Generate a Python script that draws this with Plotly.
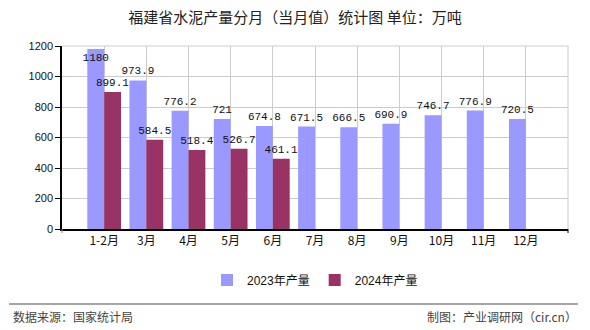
import plotly.graph_objects as go

categories = ["1-2月", "3月", "4月", "5月", "6月", "7月", "8月", "9月", "10月", "11月", "12月"]
values_2023 = [1180, 973.9, 776.2, 721, 674.8, 671.5, 666.5, 690.9, 746.7, 776.9, 720.5]
values_2024 = [899.1, 584.5, 518.4, 526.7, 461.1]
labels_2023 = ["1180", "973.9", "776.2", "721", "674.8", "671.5", "666.5", "690.9", "746.7", "776.9", "720.5"]
labels_2024 = ["899.1", "584.5", "518.4", "526.7", "461.1"]
y_ticks = [0, 200, 400, 600, 800, 1000, 1200]

W, H = 590, 330
L, R, T, B = 62, 22, 46, 101
pw, ph = W - L - R, H - T - B

def px_x(x):
    return (x - L) / pw

def px_y(y):
    return (H - B - y) / ph

num_font = dict(family="Liberation Mono, DejaVu Sans Mono, monospace", size=11, color="#111")

fig = go.Figure()
fig.add_trace(go.Bar(
    x=categories, y=values_2023, name="2023年产量",
    marker=dict(color="#9999FF", line=dict(width=0)),
    text=labels_2023,
    textposition=["inside"] + ["outside"] * (len(values_2023) - 1),
    insidetextanchor="end", textangle=0,
    textfont=num_font, insidetextfont=num_font, outsidetextfont=num_font,
    constraintext="none", cliponaxis=False,
))
fig.add_trace(go.Bar(
    x=categories[:len(values_2024)], y=values_2024, name="2024年产量",
    marker=dict(color="#993366", line=dict(width=0)),
    text=labels_2024, textposition="outside", textangle=0,
    textfont=num_font, outsidetextfont=num_font,
    constraintext="none", cliponaxis=False,
))

shapes = [
    dict(type="line", xref="paper", yref="paper", x0=0, x1=1, y0=1, y1=1, line=dict(color="#cccccc", width=1)),
    dict(type="line", xref="paper", yref="paper", x0=1, x1=1, y0=0, y1=1, line=dict(color="#cccccc", width=1)),
    dict(type="line", xref="paper", yref="paper", x0=0, x1=0, y0=0, y1=px_y(H - B + 4), line=dict(color="#888", width=1)),
    dict(type="line", xref="paper", yref="paper", x0=1, x1=1, y0=0, y1=px_y(H - B + 4), line=dict(color="#000", width=1)),
    dict(type="line", xref="paper", yref="paper", x0=px_x(9), x1=px_x(578), y0=px_y(304), y1=px_y(304),
         line=dict(color="#888888", width=1.5)),
]

annotations = [
    dict(text="数据来源：国家统计局", xref="paper", yref="paper", x=px_x(11), y=px_y(316),
         xanchor="left", yanchor="middle", showarrow=False,
         font=dict(family="Noto Sans CJK SC", size=12, color="#444")),
    dict(text="制图：产业调研网（cir.cn）", xref="paper", yref="paper", x=px_x(579), y=px_y(316),
         xanchor="right", yanchor="middle", showarrow=False,
         font=dict(family="Noto Sans CJK SC", size=12, color="#444")),
]

fig.update_layout(
    width=W, height=H,
    margin=dict(l=L, r=R, t=T, b=B),
    paper_bgcolor="white", plot_bgcolor="white",
    barmode="group", bargap=0.2, bargroupgap=0,
    title=dict(text="福建省水泥产量分月（当月值）统计图 单位：万吨", x=0.5, xanchor="center",
               y=1 - 18 / H, yanchor="middle", yref="container",
               font=dict(family="Noto Sans CJK SC", size=15, color="#222")),
    xaxis=dict(type="category", range=[-1, 11], showgrid=True, gridcolor="#cccccc", gridwidth=1,
               showline=True, linecolor="#000", linewidth=1.5, ticks="",
               tickfont=dict(family="Noto Sans CJK SC", size=12, color="#111"), zeroline=False),
    yaxis=dict(range=[0, 1200], tickvals=y_ticks, showgrid=True, gridcolor="#cccccc", gridwidth=1,
               showline=True, linecolor="#000", linewidth=1.5, ticks="outside", ticklen=5, tickcolor="#000",
               tickfont=dict(family="Liberation Sans, Arial", size=11, color="#111"), zeroline=False),
    legend=dict(orientation="h", x=0.5, xanchor="center", y=px_y(280), yanchor="middle",
                font=dict(family="Liberation Sans, Noto Sans CJK SC", size=12, color="#111"),
                itemwidth=30, tracegroupgap=0),
    shapes=shapes, annotations=annotations,
    showlegend=True,
)

fig.write_html("out.html")
